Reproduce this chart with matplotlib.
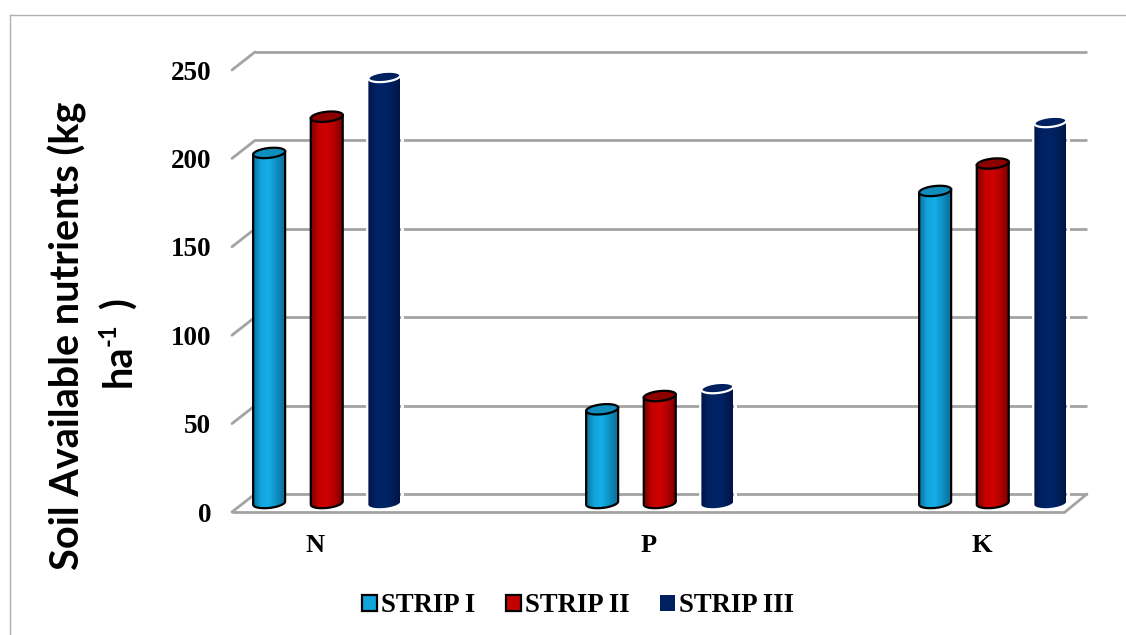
import numpy as np
import matplotlib
matplotlib.use('Agg')
import matplotlib.pyplot as plt
from matplotlib.colors import LinearSegmentedColormap
from matplotlib.lines import Line2D
from matplotlib.patches import ConnectionPatch, Patch, Polygon

nutrients = ['N', 'P', 'K']
strip_names = ['STRIP I', 'STRIP II', 'STRIP III']
strip_1 = [198, 53, 176.5]
strip_2 = [218.5, 60.5, 192]
strip_3 = [241, 65, 215.5]
y_ticks = [0, 50, 100, 150, 200, 250]

W, H = 1126, 635
GRID = '#a3a3a3'

plt.rcParams['font.family'] = ['Liberation Serif']
plt.rcParams['font.weight'] = 'bold'


def plane(fig, left, right, bottom, top):
    # axes from pixel box, y counted from the top of the picture
    a = fig.add_axes([left / W, 1 - bottom / H, (right - left) / W, (bottom - top) / H])
    a.set_xlim(-0.25, 2.25)
    a.set_ylim(0, 250)
    a.patch.set_visible(False)
    for s in a.spines.values():
        s.set_visible(False)
    a.set_xticks([])
    a.set_yticks([])
    return a


fig = plt.figure(figsize=(W / 100, H / 100), dpi=100)

# outer frame of the pasted chart
fig.add_artist(Line2D([10 / W, 10 / W], [0, 1 - 15 / H], color='#b0b0b0', lw=1))
fig.add_artist(Line2D([10 / W, 1], [1 - 15 / H, 1 - 15 / H], color='#b0b0b0', lw=1))

back = plane(fig, 255, 1087, 494, 52)
mid = plane(fig, 243.5, 1076, 503, 61)
front = plane(fig, 232, 1065, 512, 70)

for v in y_ticks:
    back.plot([-0.25, 2.25], [v, v], color=GRID, lw=2, solid_capstyle='butt', zorder=1, clip_on=False)
    fig.add_artist(ConnectionPatch((-0.25, v), (-0.25, v), coordsA=front.transData,
                                   coordsB=back.transData, color=GRID, lw=2))
# floor edges
front.plot([-0.25, 2.25], [0, 0], color=GRID, lw=2, solid_capstyle='butt', clip_on=False)
fig.add_artist(ConnectionPatch((2.25, 0), (2.25, 0), coordsA=front.transData,
                               coordsB=back.transData, color=GRID, lw=2))

front.set_yticks(y_ticks)
front.set_xticks(range(len(nutrients)))
front.set_xticklabels(nutrients)
front.tick_params(axis='y', length=0, pad=15, labelsize=19.5)
front.tick_params(axis='x', length=0, pad=16, labelsize=19)

styles = [
    (strip_1, ['#0c6f9c', '#12a5dc', '#13aee6', '#0f8fc2', '#0b6d98'], '#0f8dbb', 'black', -0.173),
    (strip_2, ['#7d0000', '#c40000', '#cf0000', '#b00000', '#7a0000'], '#8c0000', 'black', 0.0),
    (strip_3, ['#001648', '#002263', '#002468', '#001f5c', '#001545'], '#002060', 'white', 0.173),
]
width = 0.096
ell_h = 2.8   # half height of the cap, in data units
tilt = 0.9

mid.set_zorder(3)
for values, ramp, cap, edge, shift in styles:
    cmap = LinearSegmentedColormap.from_list('cyl', ramp)
    for i, v in enumerate(values):
        xc = i + shift
        t = np.linspace(0, 2 * np.pi, 90)
        ex = np.cos(t) * width / 2
        ey = np.sin(t) * ell_h + np.cos(t) * tilt
        # body: top line across, then the lower half of the base ellipse
        low = np.linspace(np.pi, 2 * np.pi, 45)
        bx = xc + np.cos(low) * width / 2
        by = np.sin(low) * ell_h + np.cos(low) * tilt
        body_x = np.r_[xc - width / 2, bx, xc + width / 2]
        body_y = np.r_[v - tilt, by, v + tilt]
        body = Polygon(np.c_[body_x, body_y], closed=True, facecolor='none',
                       edgecolor=edge if edge == 'black' else 'none', lw=1.6, zorder=4, clip_on=False)
        im = mid.imshow(np.linspace(0, 1, 64).reshape(1, -1), cmap=cmap, aspect='auto',
                        extent=[xc - width / 2, xc + width / 2, -ell_h - 2, v + 2], zorder=3)
        mid.add_patch(body)
        im.set_clip_box(fig.bbox)
        im.set_clip_path(body)
        if edge == 'white':
            mid.plot([xc - width / 2 - 0.005] * 2, [0, v], color='white', lw=2, zorder=2, clip_on=False)
            mid.plot([xc + width / 2 + 0.005] * 2, [0, v], color='white', lw=2, zorder=2, clip_on=False)
        mid.add_patch(Polygon(np.c_[xc + ex, v + ey], closed=True, facecolor=cap,
                              edgecolor=edge, lw=1.6, zorder=5, clip_on=False))
mid.set_xlim(-0.25, 2.25)
mid.set_ylim(0, 250)

label_font = dict(rotation=90, ha='center', va='center', family='Lato', fontweight='bold')
fig.text(67 / W, 1 - 336 / H, 'Soil Available nutrients (kg', fontsize=28.5, **label_font)
# second line in three pieces so the exponent stays a small raised hyphen-one
fig.text(119 / W, 1 - 366 / H, 'ha', fontsize=28.5, **label_font)
fig.text(108 / W, 1 - 335 / H, '-1', fontsize=17, **label_font)
fig.text(119 / W, 1 - 303 / H, ')', fontsize=28.5, **label_font)

handles = [
    Patch(facecolor='#12a5dc', edgecolor='black', lw=1.6),
    Patch(facecolor='#c40000', edgecolor='black', lw=1.6),
    Patch(facecolor='#002060', edgecolor='none'),
]
fig.legend(handles, strip_names, ncol=3, frameon=False, loc='center', bbox_to_anchor=(578 / W, 1 - 606 / H),
           fontsize=19.3, handlelength=0.55, handleheight=0.55, handletextpad=0.15, columnspacing=1.15)

fig.savefig('out.png')
